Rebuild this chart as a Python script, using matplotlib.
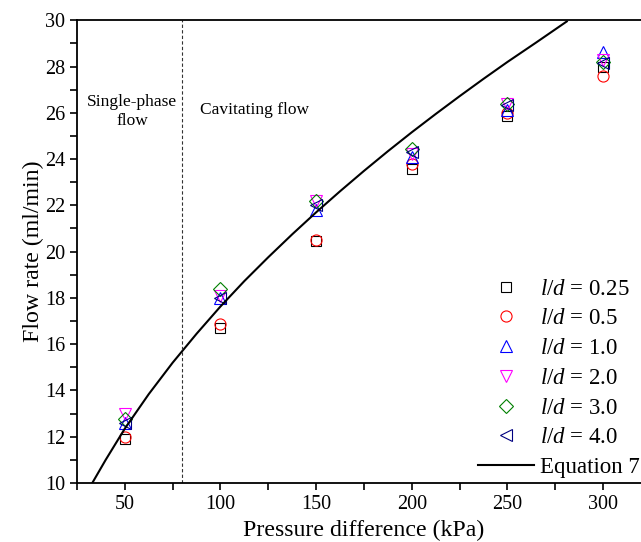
import numpy as np
import matplotlib
matplotlib.use('Agg')
import matplotlib.pyplot as plt
from matplotlib.ticker import MultipleLocator

plt.rcParams['font.family'] = ['Liberation Serif', 'DejaVu Serif']
plt.rcParams['mathtext.fontset'] = 'custom'
plt.rcParams['mathtext.rm'] = 'Liberation Serif'
plt.rcParams['mathtext.it'] = 'Liberation Serif:italic'

# Measured flow rate (ml/min) against pressure difference (kPa)
pressure = [50, 100, 150, 200, 250, 300]
ld_labels = ['0.25', '0.5', '1.0', '2.0', '3.0', '4.0']
flow_025 = [11.9, 16.7, 20.45, 23.55, 25.85, 28.0]
flow_05 = [12.0, 16.85, 20.5, 23.8, 26.0, 27.6]
flow_10 = [12.6, 18.0, 21.8, 24.1, 26.1, 28.65]
flow_20 = [13.0, 18.1, 22.2, 24.2, 26.4, 28.3]
flow_30 = [12.75, 18.4, 22.2, 24.45, 26.4, 28.2]
flow_40 = [12.6, 18.0, 22.0, 24.3, 26.35, 28.15]

# Equation 7 prediction
eq_pressure = [33, 40, 50, 62.5, 75, 87.5, 100, 112.5, 125, 137.5, 150,
               162.5, 175, 187.5, 200, 212.5, 225, 237.5, 250, 265, 281]
eq_flow = [10.0, 11.0, 12.35, 13.84, 15.2, 16.45, 17.63, 18.73, 19.76, 20.75,
           21.7, 22.61, 23.49, 24.34, 25.16, 25.95, 26.72, 27.47, 28.2, 29.04, 29.95]

series = [flow_025, flow_05, flow_10, flow_20, flow_30, flow_40]
markers = ['s', 'o', '^', 'v', 'D', '<']
colors = ['black', 'red', 'blue', 'magenta', 'green', 'navy']
sizes = [7, 8, 9, 9, 7, 9]

fig = plt.figure(figsize=(6.41, 5.42), dpi=100)
ax = fig.add_axes([0.1201, 0.1089, 0.8955, 0.8537])

for ys, lab, m, c, s in zip(series, ld_labels, markers, colors, sizes):
    ax.plot(pressure, ys, linestyle='none', marker=m, markersize=s,
            markerfacecolor='none', markeredgecolor=c, markeredgewidth=0.8,
            label=r'$l/d$ = ' + lab)

ax.plot(eq_pressure, eq_flow, color='black', lw=1.5, label='Equation 7')

ax.axvline(80, color='#333333', lw=0.8, linestyle=(0, (3, 2)))

ax.text(53.7, 26.05, 'Single-phase\nflow', ha='center', va='center',
        fontsize=12.5, linespacing=1.3)
ax.text(118, 26.1, 'Cavitating flow', ha='center', va='center', fontsize=12.5)

ax.set_xlim(25, 325)
ax.set_ylim(10, 30)
ax.xaxis.set_major_locator(MultipleLocator(50))
ax.xaxis.set_minor_locator(MultipleLocator(25))
ax.yaxis.set_major_locator(MultipleLocator(2))
ax.yaxis.set_minor_locator(MultipleLocator(1))
ax.tick_params(which='both', direction='out', top=False, right=False,
               width=1.2, labelsize=14.5)
ax.tick_params(which='major', length=5)
ax.tick_params(which='minor', length=5)
for sp in ax.spines.values():
    sp.set_linewidth(1.3)

ax.set_xlabel('Pressure difference (kPa)', fontsize=17.2, labelpad=4.5)
ax.set_ylabel('Flow rate (ml/min)', fontsize=17.2, labelpad=0.5)

ax.legend(loc='upper left', bbox_to_anchor=(478 / 641, 1 - 278.5 / 542),
          bbox_transform=fig.transFigure, frameon=False, fontsize=16.5,
          handlelength=2.45, handletextpad=0.25, labelspacing=0.38,
          borderpad=0, borderaxespad=0)

fig.savefig('out.png', dpi=100)
